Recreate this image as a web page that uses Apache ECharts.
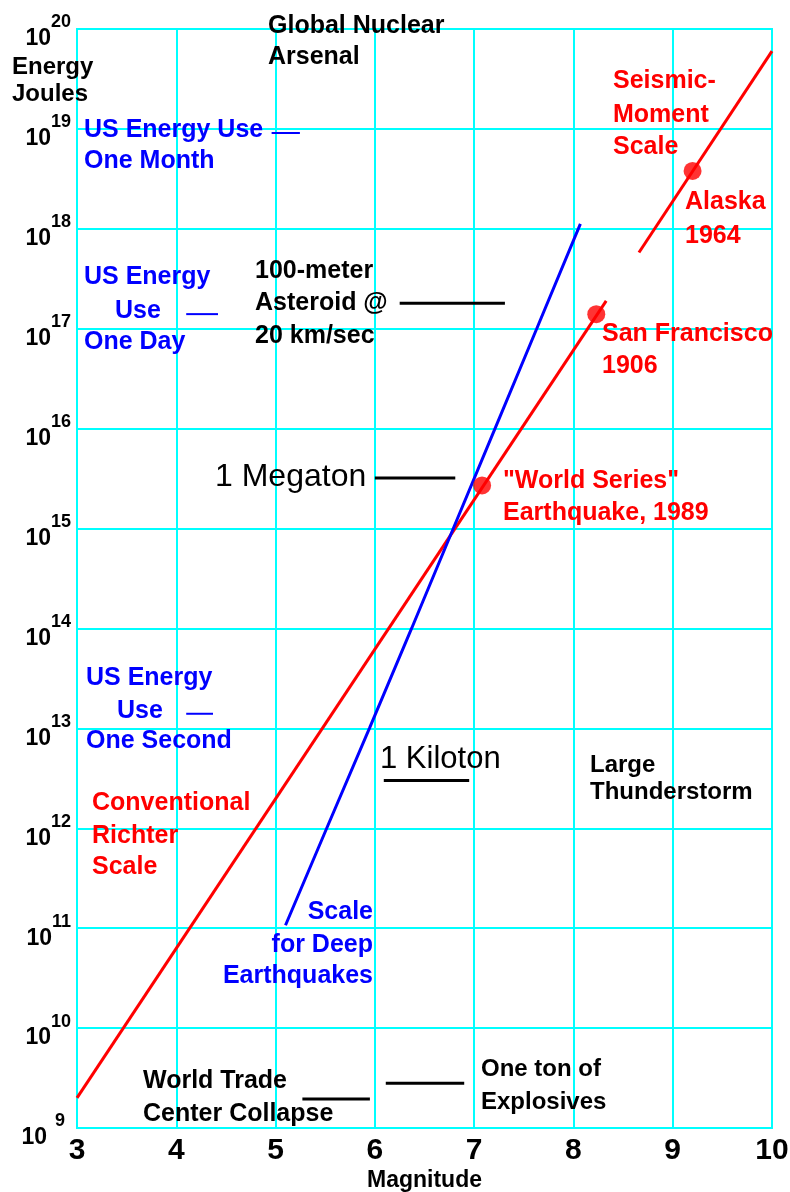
<!DOCTYPE html>
<html>
<head>
<meta charset="utf-8">
<script src="https://cdn.jsdelivr.net/npm/echarts@6/dist/echarts.min.js"></script>
<style>
html,body{margin:0;padding:0;background:#fff;}
#chart{width:790px;height:1192px;}
</style>
</head>
<body>
<div id="chart"></div>
<script>
// ---- data (magnitude, energy in joules) ----
const magnitudeTicks = [3, 4, 5, 6, 7, 8, 9, 10];
const energyExponents = [9, 10, 11, 12, 13, 14, 15, 16, 17, 18, 19, 20];

const richterLine = [[3.0, 2.0e9], [8.33, 1.9e17]];
const richterQuakes = [[7.08, 2.7e15], [8.23, 1.4e17]];      // World Series 1989, San Francisco 1906
const momentLine = [[8.66, 5.8e17], [10.0, 6.0e19]];
const momentQuakes = [[9.2, 3.8e18]];                           // Alaska 1964
const deepLine = [[5.10, 1.07e11], [5.515, 1.0e12], [5.945, 1.0e13], [6.37, 1.0e14],
                  [6.79, 1.0e15], [7.21, 1.0e16], [7.63, 1.0e17], [8.07, 1.12e18]];

const asteroidMark = [[6.25, 1.8e17], [7.31, 1.8e17]];
const megatonMark = [[6.0, 3.2e15], [6.81, 3.2e15]];
const kilotonMark = [[6.09, 3.0e12], [6.95, 3.0e12]];
const wtcMark = [[5.27, 1.95e9], [5.95, 1.95e9]];
const tonMark = [[6.11, 2.8e9], [6.9, 2.8e9]];
const usMonthMark = [[4.96, 9.1e18], [5.245, 9.1e18]];
const usDayMark = [[4.1, 1.4e17], [4.42, 1.4e17]];
const usSecondMark = [[4.1, 1.4e13], [4.37, 1.4e13]];

// ---- chart ----
const FF = '"Liberation Sans", Arial, sans-serif';
const toLog = pts => pts.map(p => [p[0], Math.log10(p[1])]);

function lineSeries(pts, color, width) {
  return {type: 'line', data: toLog(pts), symbol: 'none', silent: true,
          lineStyle: {color: color, width: width}, z: 3};
}
function dotSeries(pts) {
  return {type: 'scatter', data: toLog(pts), symbol: 'circle', symbolSize: 18,
          itemStyle: {color: '#ff0000'}, silent: true, z: 4};
}
function T(x, capTop, text, color, size, weight, align) {
  return {type: 'text', x: x, y: capTop + 0.37 * size, z: 10, silent: true,
          style: {text: text, fill: color, fontSize: size, fontWeight: weight || 'bold',
                  fontFamily: FF, align: align || 'left', verticalAlign: 'middle'}};
}
const RED = '#ff0000', BLUE = '#0000ff', BLK = '#000000';

const chart = echarts.init(document.getElementById('chart'), null, {renderer: 'canvas'});
chart.setOption({
  animation: false,
  backgroundColor: '#ffffff',
  grid: {left: 77, right: 18, top: 29, bottom: 64, show: true, borderColor: '#00ffff', borderWidth: 2,
         containLabel: false, outerBoundsMode: 'none'},
  xAxis: {
    type: 'value', min: magnitudeTicks[0], max: magnitudeTicks[magnitudeTicks.length - 1], interval: 1,
    name: 'Magnitude', nameLocation: 'middle', nameGap: 41, nameMoveOverlap: false,
    nameTextStyle: {fontSize: 23, fontWeight: 'bold', color: '#000', fontFamily: FF},
    axisLine: {show: false}, axisTick: {show: false},
    axisLabel: {fontSize: 30, fontWeight: 'bold', color: '#000', fontFamily: FF, margin: 8},
    splitLine: {show: true, lineStyle: {color: '#00ffff', width: 2}}
  },
  yAxis: {
    type: 'value', min: energyExponents[0], max: energyExponents[energyExponents.length - 1], interval: 1,
    axisLine: {show: false}, axisTick: {show: false},
    axisLabel: {
      margin: 6,
      formatter: v => v === 9 ? '{b|10}{s9|9}' : '{b|10}{s|' + v + '}',
      rich: {
        b: {fontSize: 23, fontWeight: 'bold', color: '#000', fontFamily: FF, padding: [20, 0, 0, 0]},
        s: {fontSize: 18, fontWeight: 'bold', color: '#000', fontFamily: FF, padding: [0, 0, 13, 0]},
        s9: {fontSize: 18, fontWeight: 'bold', color: '#000', fontFamily: FF, padding: [0, 6, 13, 8]}
      }
    },
    splitLine: {show: true, lineStyle: {color: '#00ffff', width: 2}}
  },
  series: [
    lineSeries(richterLine, RED, 3),
    lineSeries(momentLine, RED, 3),
    lineSeries(deepLine, BLUE, 3),
    lineSeries(asteroidMark, BLK, 3),
    lineSeries(megatonMark, BLK, 3),
    lineSeries(kilotonMark, BLK, 3),
    lineSeries(wtcMark, BLK, 3),
    lineSeries(tonMark, BLK, 3),
    lineSeries(usMonthMark, BLUE, 2),
    lineSeries(usDayMark, BLUE, 2),
    lineSeries(usSecondMark, BLUE, 2),
    dotSeries(richterQuakes),
    dotSeries(momentQuakes)
  ],
  graphic: [
    T(12, 58, 'Energy', BLK, 24), T(12, 85, 'Joules', BLK, 24),
    T(268, 17, 'Global Nuclear', BLK, 25), T(268, 48, 'Arsenal', BLK, 25),
    T(84, 121, 'US Energy Use', BLUE, 25), T(84, 152, 'One Month', BLUE, 25),
    T(84, 268, 'US Energy', BLUE, 25), T(115, 302, 'Use', BLUE, 25), T(84, 333, 'One Day', BLUE, 25),
    T(255, 262, '100-meter', BLK, 25), T(255, 294, 'Asteroid @', BLK, 25), T(255, 327, '20 km/sec', BLK, 25),
    T(215, 465, '1 Megaton', BLK, 32, 'normal'),
    T(380, 748, '1 Kiloton', BLK, 31, 'normal'),
    T(86, 669, 'US Energy', BLUE, 25), T(117, 702, 'Use', BLUE, 25), T(86, 732, 'One Second', BLUE, 25),
    T(92, 794, 'Conventional', RED, 25), T(92, 827, 'Richter', RED, 25), T(92, 858, 'Scale', RED, 25),
    T(373, 903, 'Scale', BLUE, 25, 'bold', 'right'), T(373, 936, 'for Deep', BLUE, 25, 'bold', 'right'),
    T(373, 967, 'Earthquakes', BLUE, 25, 'bold', 'right'),
    T(590, 756, 'Large', BLK, 24), T(590, 783, 'Thunderstorm', BLK, 24),
    T(143, 1072, 'World Trade', BLK, 25), T(143, 1105, 'Center Collapse', BLK, 25),
    T(481, 1060, 'One ton of', BLK, 24), T(481, 1093, 'Explosives', BLK, 24),
    T(613, 72, 'Seismic-', RED, 25), T(613, 106, 'Moment', RED, 25), T(613, 138, 'Scale', RED, 25),
    T(685, 193, 'Alaska', RED, 25), T(685, 227, '1964', RED, 25),
    T(602, 325, 'San Francisco', RED, 25), T(602, 357, '1906', RED, 25),
    T(503, 472, '"World Series"', RED, 25), T(503, 504, 'Earthquake, 1989', RED, 25)
  ]
});
</script>
</body>
</html>
